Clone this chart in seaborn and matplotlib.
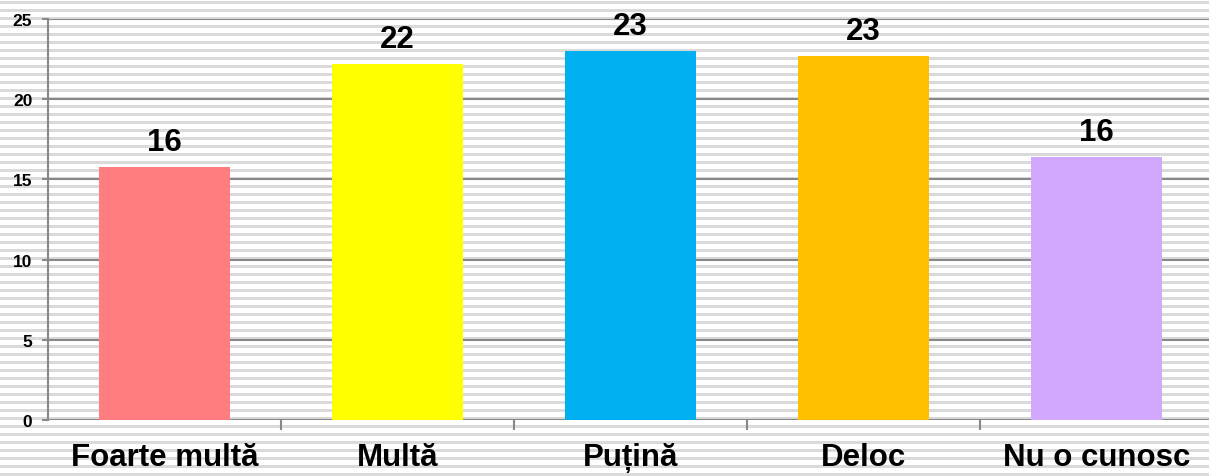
import numpy as np
import matplotlib
matplotlib.use('Agg')
import matplotlib.pyplot as plt
from matplotlib.ticker import FixedLocator
import seaborn as sns

categories = ['Foarte multă', 'Multă', 'Puțină', 'Deloc', 'Nu o cunosc']
values = [15.8, 22.2, 23.0, 22.7, 16.4]
bar_colors = ['#FF7C80', '#FFFF00', '#00B0F0', '#FFC000', '#D2A8FF']
y_ticks = [0, 5, 10, 15, 20, 25]

plt.rcParams['font.family'] = ['Liberation Sans', 'DejaVu Sans']
plt.rcParams['font.weight'] = 'bold'

fig = plt.figure(figsize=(12.09, 4.77), dpi=100)

# striped backdrop over the whole picture
bg = fig.add_axes([0, 0, 1, 1], zorder=0)
bg.set_xlim(0, 1209)
bg.set_ylim(477, 0)
bg.axis('off')
for y in np.arange(1.8, 477, 8):
    bg.axhspan(y, y + 2.8, color='#dadada', lw=0)

ax = fig.add_axes([48 / 1209, 56 / 477, 1165 / 1209, 401 / 477], zorder=1)
ax.set_facecolor('none')

sns.barplot(x=categories, y=values, hue=categories, palette=bar_colors,
            legend=False, width=0.565, saturation=1, ax=ax, zorder=3)

for cont in ax.containers:
    ax.bar_label(cont, fmt='%.0f', padding=7, fontsize=22.5, fontweight='bold')

ax.set_xlim(-0.5, 4.5)
ax.set_ylim(0, 25)
ax.set_yticks(y_ticks)
ax.set_xlabel('')
ax.set_ylabel('')

grid_col = '#888888'
ax.yaxis.grid(True, color=grid_col, lw=1.5)
ax.set_axisbelow(True)
for s in ['top', 'right', 'bottom']:
    ax.spines[s].set_visible(False)
ax.spines['left'].set_color(grid_col)
ax.spines['left'].set_linewidth(1.5)

ax.tick_params(axis='y', length=4.3, width=1.5, color=grid_col, pad=7,
               labelsize=12.5)
ax.tick_params(axis='x', which='major', length=0, pad=16, labelsize=22.5)
ax.xaxis.set_minor_locator(FixedLocator([0.5, 1.5, 2.5, 3.5]))
ax.tick_params(axis='x', which='minor', length=7.2, width=1.5, color=grid_col)
for lab in ax.get_xticklabels() + ax.get_yticklabels():
    lab.set_fontweight('bold')

fig.savefig('out.png', dpi=100)
plt.close(fig)
